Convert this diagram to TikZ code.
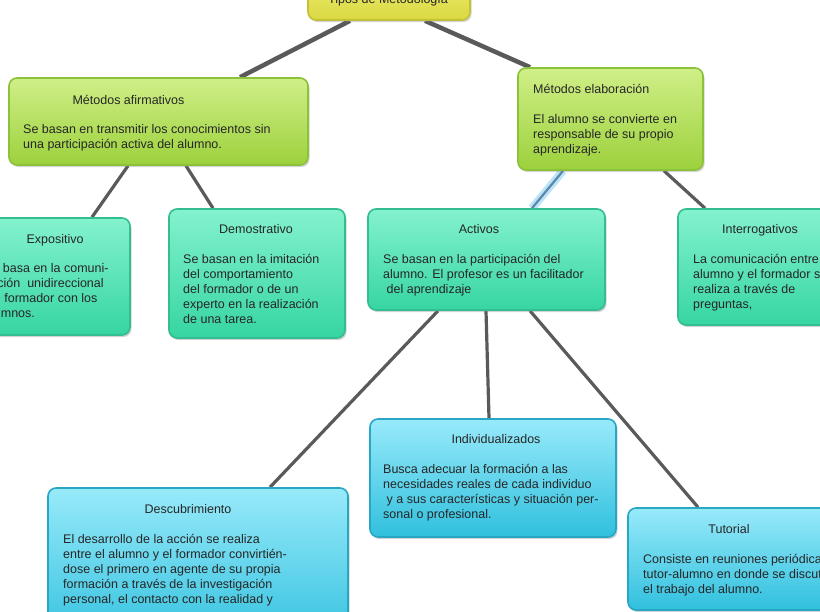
\documentclass[tikz,border=0pt]{standalone}
\usepackage{fontspec}
\setmainfont{Liberation Sans}
\usetikzlibrary{shadows,backgrounds,calc}
\definecolor{lineg}{HTML}{5A5A5A}
\definecolor{ytop}{HTML}{F7F67C}
\definecolor{ybot}{HTML}{D9D843}
\definecolor{yedge}{HTML}{C3C235}
\definecolor{gtop}{HTML}{D0EF88}
\definecolor{gbot}{HTML}{9CD13C}
\definecolor{gedge}{HTML}{8CC23A}
\definecolor{ttop}{HTML}{84F2CE}
\definecolor{tbot}{HTML}{36D5A2}
\definecolor{tedge}{HTML}{33BD90}
\definecolor{btop}{HTML}{98EAFA}
\definecolor{bbot}{HTML}{30C0DE}
\definecolor{bedge}{HTML}{29A6C4}
\definecolor{glow}{HTML}{A8DDF7}
\definecolor{glowc}{HTML}{5F87A8}
\newcommand{\bodytext}[1]{\begin{tabular}[t]{@{}l@{}}#1\end{tabular}}
\tikzset{
  x=1pt, y=-1pt,
  box/.style={rectangle, rounded corners=8pt, inner sep=0pt, line width=1.6pt,
    drop shadow={opacity=0.35, shadow xshift=1.5pt, shadow yshift=-2pt}},
  ybox/.style={box, draw=yedge, top color=ytop, bottom color=ybot},
  gbox/.style={box, draw=gedge, top color=gtop, bottom color=gbot},
  tbox/.style={box, draw=tedge, top color=ttop, bottom color=tbot},
  bbox/.style={box, draw=bedge, top color=btop, bottom color=bbot},
  ttl/.style={anchor=base, inner sep=0pt, font=\fontsize{12.5}{15}\selectfont, text=black!85},
  bdy/.style={anchor=base west, inner sep=0pt, font=\fontsize{12.5}{15}\selectfont, text=black!85},
  conn/.style={draw=lineg, line width=4.5pt},
  conn2/.style={draw=lineg, line width=3.2pt},
}
\begin{document}
\begin{tikzpicture}
\useasboundingbox (0,0) rectangle (820,611);
\clip (0,0) rectangle (820,611);
% boxes
\node[ybox, minimum width=162, minimum height=60] (top) at (389,-10) {};
\node[gbox, minimum width=299, minimum height=87] (afirm) at (158.5,121.5) {};
\node[gbox, minimum width=185, minimum height=102] (elab) at (610.5,119) {};
\node[tbox, minimum width=160, minimum height=117] (expo) at (50,276.5) {};
\node[tbox, minimum width=176, minimum height=129] (demo) at (257,273.5) {};
\node[tbox, minimum width=237, minimum height=101] (activ) at (486.5,259.5) {};
\node[tbox, minimum width=162, minimum height=116] (inter) at (759,267) {};
\node[bbox, minimum width=246, minimum height=118] (indiv) at (493,478) {};
\node[bbox, minimum width=300, minimum height=160] (descu) at (198,568) {};
\node[bbox, minimum width=212, minimum height=102] (tutor) at (734,559) {};
% connectors
\begin{pgfonlayer}{background}
\draw[conn] ([xshift=-39]top.south) -- ([xshift=81.5]afirm.north);
\draw[conn] ([xshift=36]top.south) -- ([xshift=-80.5]elab.north);
\draw[conn2] ([xshift=-30.5]afirm.south) -- ([xshift=42]expo.north);
\draw[conn2] ([xshift=27.5]afirm.south) -- ([xshift=-44]demo.north);
\draw[draw=glow, line width=8pt, opacity=0.8] ([xshift=-47.5]elab.south) -- ([xshift=45.5]activ.north);
\draw[draw=glowc, line width=2.2pt] ([xshift=-47.5]elab.south) -- ([xshift=45.5]activ.north);
\draw[conn2] ([xshift=53.5]elab.south) -- ([xshift=-54]inter.north);
\draw[conn2] ([xshift=-48.5]activ.south) -- ([xshift=72]descu.north);
\draw[conn2] ([xshift=-0.5]activ.south) -- ([xshift=-4]indiv.north);
\draw[conn2] ([xshift=43.5]activ.south) -- ([xshift=-36]tutor.north);
\end{pgfonlayer}
% texts
\node[ttl] (ttop) at (388,3) {Tipos de Metodología};
\node[ttl] (tafirm) at (128.5,104) {Métodos afirmativos};
\node[bdy] (bafirm) at (23,133) {\bodytext{Se basan en transmitir los conocimientos sin\\una participación activa del alumno.}};
\node[bdy] (telab) at (533,93) {Métodos elaboración};
\node[bdy] (belab) at (533,123) {\bodytext{El alumno se convierte en\\responsable de su propio\\aprendizaje.}};
\node[ttl] (texpo) at (55,243) {Expositivo};
\node[bdy] (bexpo) at (-16,272) {\bodytext{Se basa en la comuni-\\cación\ \ unidireccional\\del formador con los\\alumnos.}};
\node[ttl] (tdemo) at (256,233) {Demostrativo};
\node[bdy] (bdemo) at (183,263) {\bodytext{Se basan en la imitación\\del comportamiento\\del formador o de un\\experto en la realización\\de una tarea.}};
\node[ttl] (tactiv) at (479,233) {Activos};
\node[bdy] (bactiv) at (383,263) {\bodytext{Se basan en la participación del\\alumno. El profesor es un facilitador\\\ del aprendizaje}};
\node[ttl] (tinter) at (760,233) {Interrogativos};
\node[bdy] (binter) at (693,263) {\bodytext{La comunicación entre\\alumno y el formador se\\realiza a través de\\preguntas,}};
\node[ttl] (tindiv) at (496,443) {Individualizados};
\node[bdy] (bindiv) at (383,473) {\bodytext{Busca adecuar la formación a las\\necesidades reales de cada individuo\\\ y a sus características y situación per-\\sonal o profesional.}};
\node[ttl] (tdescu) at (188,513) {Descubrimiento};
\node[bdy] (bdescu) at (63,543) {\bodytext{El desarrollo de la acción se realiza\\entre el alumno y el formador convirtién-\\dose el primero en agente de su propia\\formación a través de la investigación\\personal, el contacto con la realidad y}};
\node[ttl] (ttutor) at (729,533) {Tutorial};
\node[bdy] (btutor) at (643,563) {\bodytext{Consiste en reuniones periódicas\\tutor-alumno en donde se discute\\el trabajo del alumno.}};
\end{tikzpicture}
\end{document}
